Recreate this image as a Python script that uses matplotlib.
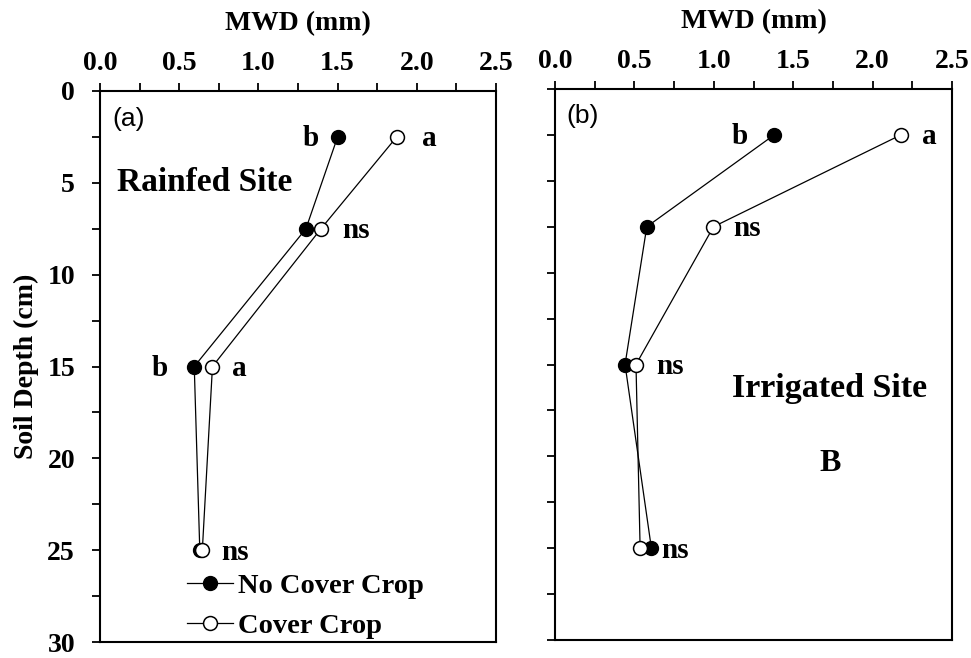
import matplotlib
matplotlib.use("Agg")
import matplotlib.pyplot as plt
from matplotlib.ticker import MultipleLocator

plt.rcParams['font.family'] = ['Liberation Serif', 'DejaVu Serif']
plt.rcParams['font.weight'] = 'bold'

depth = [2.5, 7.5, 15, 25]
rain_nocc = [1.50, 1.30, 0.595, 0.63]
rain_cc = [1.873, 1.395, 0.71, 0.646]
irr_nocc = [1.38, 0.578, 0.441, 0.607]
irr_cc = [2.178, 0.998, 0.51, 0.536]

xticks = [0.0, 0.5, 1.0, 1.5, 2.0, 2.5]
yticks = [0, 5, 10, 15, 20, 25, 30]

# (text, series, index, pixel offset)
rain_notes = [("b", "nocc", 0, -27), ("a", "cc", 0, 33), ("ns", "cc", 1, 35),
              ("b", "nocc", 2, -35), ("a", "cc", 2, 27), ("ns", "cc", 3, 33)]
irr_notes = [("b", "nocc", 0, -34), ("a", "cc", 0, 28), ("ns", "cc", 1, 34),
             ("ns", "cc", 2, 34), ("ns", "nocc", 3, 24)]

fig = plt.figure(figsize=(9.71, 6.58), dpi=100)
ax1 = fig.add_axes([100/971, 1-642/658, 396/971, 551/658])
ax2 = fig.add_axes([555/971, 1-640/658, 397/971, 551/658])

def style(ax, labels_y):
    ax.set_xlim(0, 2.5)
    ax.set_ylim(30, 0)
    ax.xaxis.tick_top()
    ax.xaxis.set_label_position('top')
    ax.set_xticks(xticks)
    ax.set_xticklabels([f"{v:.1f}" for v in xticks])
    ax.xaxis.set_minor_locator(MultipleLocator(0.25))
    ax.set_yticks(yticks)
    ax.yaxis.set_minor_locator(MultipleLocator(2.5))
    if not labels_y:
        ax.set_yticklabels([])
    ax.tick_params(which='both', direction='out', length=6, width=1.3,
                   labelsize=20)
    ax.tick_params(axis='x', which='major', pad=5)
    ax.tick_params(axis='y', which='major', pad=12)
    for lab in ax.get_xticklabels() + ax.get_yticklabels():
        lab.set_fontweight('bold')
    for s in ax.spines.values():
        s.set_linewidth(1.5)
    ax.set_xlabel("MWD (mm)", fontsize=20, fontweight='bold', labelpad=15)

def draw(ax, nocc, cc, notes):
    ax.plot(nocc, depth, color='black', lw=0.9, marker='o', ms=10,
            mfc='black', mec='black', label='No Cover Crop', zorder=3)
    ax.plot(cc, depth, color='black', lw=0.9, marker='o', ms=10,
            mfc='white', mec='black', mew=1.1, label='Cover Crop', zorder=3)
    series = {"nocc": nocc, "cc": cc}
    for txt, s, i, dx in notes:
        ax.annotate(txt, xy=(series[s][i], depth[i]), xytext=(dx, -2),
                    textcoords='offset pixels', ha='center', va='center',
                    fontsize=21, fontweight='bold')

style(ax1, True)
style(ax2, False)
draw(ax1, rain_nocc, rain_cc, rain_notes)
draw(ax2, irr_nocc, irr_cc, irr_notes)

ax1.set_ylabel("Soil Depth (cm)", fontsize=20, fontweight='bold', labelpad=6)

ax1.text(0.076, 1.5, "(a)", family='Liberation Sans', fontweight='normal',
         fontsize=19, ha='left', va='center')
ax2.text(0.07, 1.45, "(b)", family='Liberation Sans', fontweight='normal',
         fontsize=19, ha='left', va='center')
ax1.text(0.11, 5.0, "Rainfed Site", fontsize=24, fontweight='bold',
         ha='left', va='center')
ax2.text(1.73, 16.3, "Irrigated Site", fontsize=24.5, fontweight='bold',
         ha='center', va='center')
ax2.text(1.73, 20.4, "B", fontsize=23, fontweight='bold',
         ha='center', va='center')

leg = ax1.legend(loc='lower left', bbox_to_anchor=(87/396, 0.005), frameon=False,
                 fontsize=20.5, handlelength=1.6, handletextpad=0.18,
                 labelspacing=0.5, borderpad=0, borderaxespad=0.0)
for t in leg.get_texts():
    t.set_fontweight('bold')

fig.savefig("out.png", dpi=100)
